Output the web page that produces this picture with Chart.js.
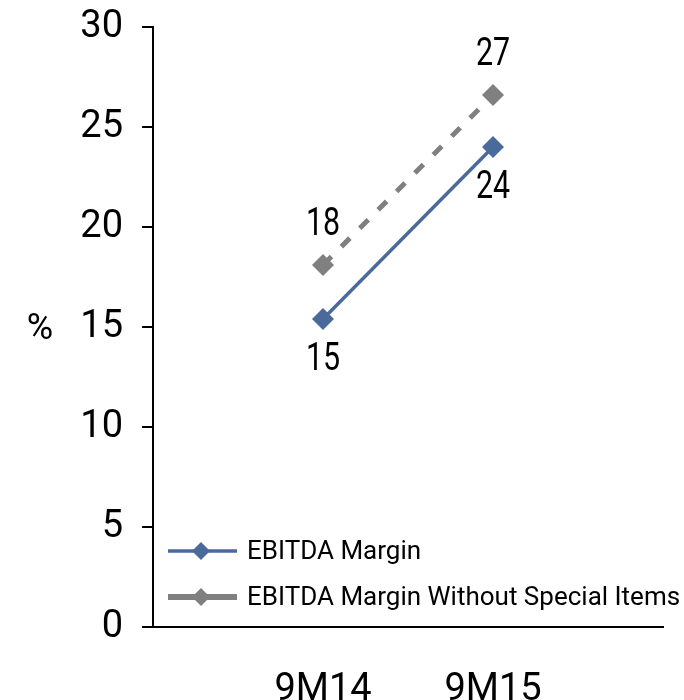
<!DOCTYPE html>
<html>
<head>
<meta charset="utf-8">
<script src="https://cdn.jsdelivr.net/npm/chart.js@4/dist/chart.umd.min.js"></script>
<style>
  html, body { margin: 0; padding: 0; background: #fff; }
  #wrap { width: 684px; height: 700px; }
</style>
</head>
<body>
<div id="wrap"><canvas id="c"></canvas></div>
<script>
// Periods and EBITDA margin values (%)
const categories = ['9M14', '9M15'];
const ebitdaMargin = [15.4, 24.0];
const ebitdaMarginExSpecial = [18.1, 26.6];
const seriesNames = ['EBITDA Margin', 'EBITDA Margin Without Special Items'];
const yTicks = [0, 5, 10, 15, 20, 25, 30];
const yUnit = '%';

const BLUE = '#4A6A9B';
const GREY = '#808080';
const TICK_FONT = 'Roboto, "Liberation Sans", sans-serif';
const LABEL_FONT = 'Roboto, "Liberation Sans", sans-serif';

// An empty slot at each end keeps the two periods away from the axes
const labels = ['', ...categories, ''];
const pad = arr => [null, ...arr, null];

// Value labels (narrow lettering): the first series below its points, the second above
const valueLabels = {
  id: 'valueLabels',
  afterDatasetsDraw(chart) {
    const ctx = chart.ctx;
    const offsets = [40, -41];
    const squeeze = 0.8;
    chart.data.datasets.forEach((ds, i) => {
      chart.getDatasetMeta(i).data.forEach((pt, j) => {
        const v = ds.data[j];
        if (v === null || v === undefined) return;
        ctx.save();
        ctx.translate(pt.x, pt.y + offsets[i]);
        ctx.scale(squeeze, 1);
        ctx.font = '38px ' + LABEL_FONT;
        ctx.fillStyle = '#000';
        ctx.textAlign = 'center';
        ctx.textBaseline = 'middle';
        ctx.fillText(String(Math.round(v)), 0, 1);
        ctx.restore();
      });
    });
  }
};

// Legend drawn inside the plot area, lower left, plus the unrotated unit label
const innerLegend = {
  id: 'innerLegend',
  afterDraw(chart) {
    const ctx = chart.ctx;
    const area = chart.chartArea;
    ctx.save();
    // unit label beside the value axis
    ctx.font = '36px ' + TICK_FONT;
    ctx.fillStyle = '#000';
    ctx.textAlign = 'center';
    ctx.textBaseline = 'middle';
    ctx.fillText(yUnit, 40, (area.top + area.bottom) / 2 + 3);

    const x0 = area.left + 15, x1 = area.left + 84, xm = area.left + 48;
    const rows = [area.bottom - 76, area.bottom - 30];
    chart.data.datasets.forEach((ds, i) => {
      const y = rows[i];
      ctx.strokeStyle = ds.borderColor;
      ctx.lineWidth = i === 0 ? 3.5 : 6;
      ctx.setLineDash([]);
      ctx.beginPath();
      ctx.moveTo(x0, y);
      ctx.lineTo(x1, y);
      ctx.stroke();
      const r = 9;
      ctx.fillStyle = ds.pointBackgroundColor;
      ctx.beginPath();
      ctx.moveTo(xm, y - r);
      ctx.lineTo(xm + r, y);
      ctx.lineTo(xm, y + r);
      ctx.lineTo(xm - r, y);
      ctx.closePath();
      ctx.fill();
      ctx.fillStyle = '#000';
      ctx.font = '26px ' + TICK_FONT;
      ctx.textAlign = 'left';
      ctx.textBaseline = 'middle';
      ctx.fillText(ds.label, x1 + 10, y + 1);
    });
    ctx.restore();
  }
};

new Chart(document.getElementById('c'), {
  type: 'line',
  data: {
    labels: labels,
    datasets: [
      {
        label: seriesNames[0],
        data: pad(ebitdaMargin),
        borderColor: BLUE,
        borderWidth: 3.5,
        pointStyle: 'rectRot',
        pointRadius: 11,
        pointBackgroundColor: BLUE,
        pointBorderWidth: 0,
        tension: 0
      },
      {
        label: seriesNames[1],
        data: pad(ebitdaMarginExSpecial),
        borderColor: GREY,
        borderWidth: 5,
        borderDash: [12, 14],
        pointStyle: 'rectRot',
        pointRadius: 11,
        pointBackgroundColor: GREY,
        pointBorderWidth: 0,
        tension: 0
      }
    ]
  },
  options: {
    responsive: true,
    maintainAspectRatio: false,
    animation: false,
    layout: { padding: { top: 27, right: 21, left: 0, bottom: 0 } },
    plugins: {
      legend: { display: false },
      tooltip: { enabled: false }
    },
    scales: {
      x: {
        type: 'category',
        offset: false,
        grid: { display: false, drawTicks: false },
        border: { display: true, color: '#000', width: 2 },
        ticks: {
          font: { size: 38, family: TICK_FONT },
          color: '#000',
          padding: 41,
          autoSkip: false,
          maxRotation: 0
        },
        afterFit: s => { s.height = 73; s.paddingLeft = 0; s.paddingRight = 0; }
      },
      y: {
        min: 0,
        max: 30,
        afterBuildTicks: s => { s.ticks = yTicks.map(v => ({ value: v })); },
        grid: { drawOnChartArea: false, drawTicks: true, tickLength: 11, color: '#000', lineWidth: 2 },
        border: { display: true, color: '#000', width: 2 },
        ticks: {
          font: { size: 38, family: TICK_FONT },
          color: '#000',
          padding: 19
        },
        afterFit: s => { s.width = 153; s.paddingTop = 0; s.paddingBottom = 0; }
      }
    }
  },
  plugins: [valueLabels, innerLegend]
});
</script>
</body>
</html>
